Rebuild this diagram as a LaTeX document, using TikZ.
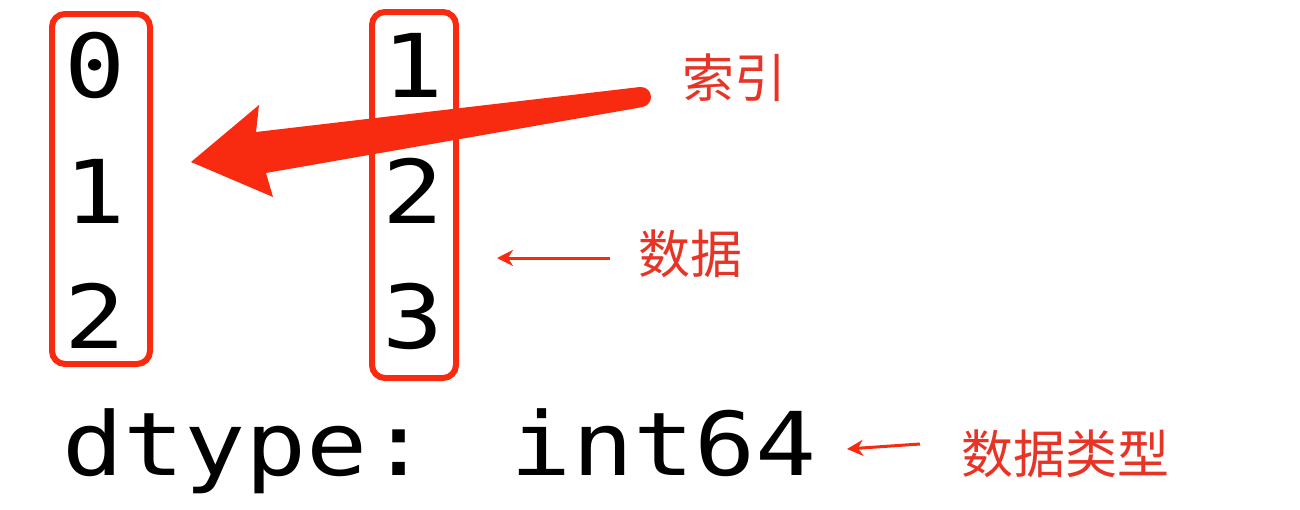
\documentclass[tikz,border=0pt]{standalone}
\usepackage{fontspec}
\usetikzlibrary{arrows.meta}
\newfontfamily\codefont[FakeStretch=1.155]{DejaVu Sans Mono}
\newfontfamily\cjk{Noto Sans CJK SC}
\definecolor{boxred}{RGB}{248,42,16}
\definecolor{txtred}{RGB}{232,52,38}
\tikzset{
  digit/.style={inner sep=0pt, anchor=base, font=\codefont\fontsize{88}{88}\selectfont, text=black},
  codeline/.style={inner sep=0pt, anchor=base west, font=\codefont\fontsize{88}{88}\selectfont, text=black},
  colbox/.style={draw=boxred, line width=6pt, rounded corners=13pt},
  label/.style={inner sep=0pt, font=\cjk\fontsize{52}{52}\selectfont, text=txtred},
  thinarrow/.style={draw=boxred, line width=3pt, -{Stealth[length=16pt,width=16pt,inset=5pt]}},
}
\begin{document}
\begin{tikzpicture}[x=1pt,y=-1pt]
\useasboundingbox (0,0) rectangle (1300,509);
\fill[white] (0,0) rectangle (1300,509);
% index column
\node[digit] (i0) at (95,97) {0};
\node[digit] (i1) at (95,223) {1};
\node[digit] (i2) at (95,348) {2};
% data column
\node[digit] (d0) at (413,97) {1};
\node[digit] (d1) at (413,223) {2};
\node[digit] (d2) at (413,348) {3};
% boxes
\draw[colbox] (52,14) rectangle (150,364);
\draw[colbox] (372,12) rectangle (456,378);
% dtype line
\node[codeline] (dt) at (62,475) {dtype: int64};
% labels
\node[label] (idx) at (734,78) {索引};
\node[label] (dat) at (690,254) {数据};
\node[label] (typ) at (1065,454) {数据类型};
% big arrow
\coordinate (tip) at (191,162);
\coordinate (tail) at (641,97);
\fill[boxred] (tip) -- (259,105) -- (256,132) -- (640,87) -- (643,107) -- (266,173) -- (273,197) -- cycle;
\fill[boxred] (tail) circle[radius=10pt];
% thin arrows
\coordinate (dathead) at (497,258);
\coordinate (dattail) at (610,258);
\draw[thinarrow] (dattail) -- (dathead);
\coordinate (typhead) at (847,449);
\coordinate (typtail) at (920,444);
\draw[thinarrow] (typtail) -- (typhead);
\end{tikzpicture}
\end{document}
